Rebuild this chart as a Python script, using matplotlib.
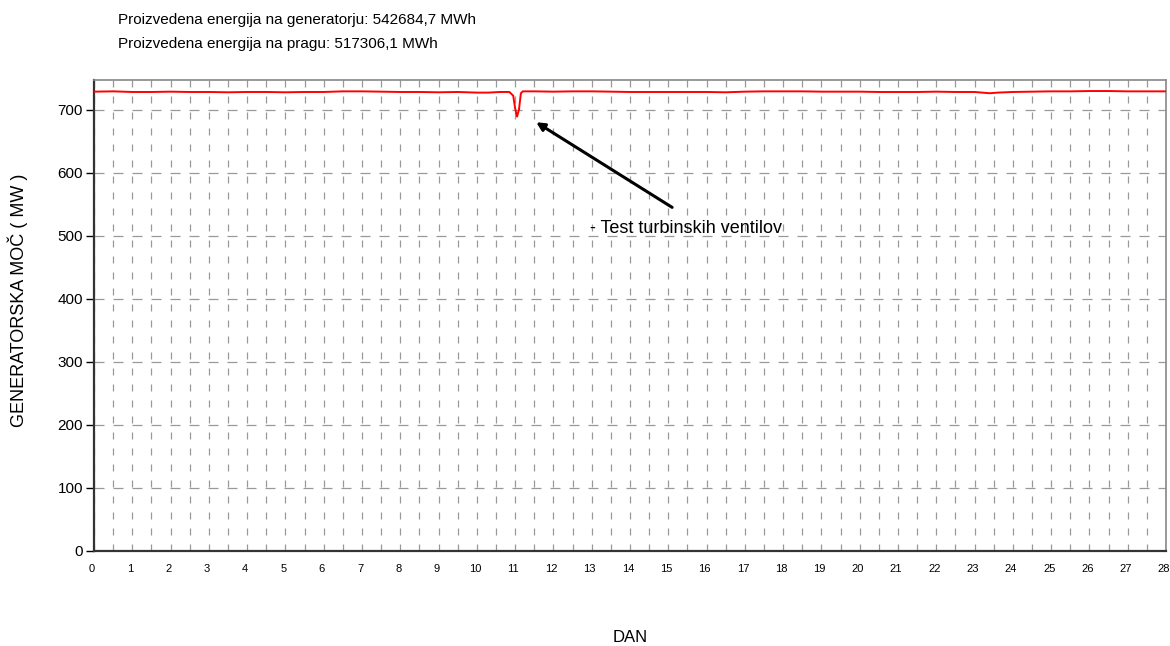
import matplotlib
matplotlib.use("Agg")
import matplotlib.pyplot as plt
import matplotlib.transforms as mtransforms
import numpy as np

plt.rcParams["font.family"] = ["Liberation Sans", "DejaVu Sans"]

# samples (day, MW)
days = [0.0, 0.5, 1.0, 1.5, 2.0, 2.5, 3.0, 3.5, 4.0, 4.5, 5.0, 5.5, 6.0,
        6.5, 7.0, 7.5, 8.0, 8.5, 9.0, 9.5, 10.0, 10.3, 10.6, 10.85, 10.95,
        11.0, 11.05, 11.1, 11.15, 11.2, 11.5, 12.0, 12.5, 13.0, 13.5, 14.0,
        14.5, 15.0, 15.5, 16.0, 16.5, 17.0, 17.5, 18.0, 18.5, 19.0, 19.5,
        20.0, 20.5, 21.0, 21.5, 22.0, 22.5, 23.0, 23.4, 23.6, 24.0, 24.5,
        25.0, 25.5, 26.0, 26.5, 27.0, 27.5, 28.0]
power = [728.5, 729, 728, 728, 728.5, 728, 728, 727.5, 728, 728, 727.5,
         728, 728, 729, 729, 728.5, 728, 728, 727.5, 728, 727, 727, 728,
         728, 722, 702, 689, 700, 726, 729, 729, 728.5, 729, 729, 728.5,
         728, 728, 728, 728, 728, 727.5, 728.5, 729, 729, 729, 728.5,
         728.5, 728.5, 728, 728, 728, 728.5, 728, 728, 726, 727, 728,
         728.5, 729, 729, 729.5, 729.5, 729, 729, 729]

header = ["Proizvedena energija na generatorju: 542684,7 MWh",
          "Proizvedena energija na pragu: 517306,1 MWh"]
note = "- Test turbinskih ventilov"

fig = plt.figure(figsize=(11.7, 6.46), dpi=100)
ax = fig.add_axes([94 / 1170, 1 - 551 / 646, 1072 / 1170, 471 / 646])

ax.plot(days, power, color="#ff0000", linewidth=1.4, zorder=3)

ax.set_xlim(0, 28)
ax.set_ylim(0, 747)
ax.set_xticks(np.arange(0, 29, 1))
ax.set_xticks(np.arange(0, 28.5, 0.5), minor=True)
ax.set_yticks(np.arange(0, 701, 100))
ax.tick_params(axis="x", which="both", length=0, labelsize=8, pad=9)
ax.tick_params(axis="y", length=6, width=1, direction="out", labelsize=11,
               pad=2)

# nudge x labels a little left, as in the original
shift = mtransforms.ScaledTranslation(-2 / 100, 0, fig.dpi_scale_trans)
for lbl in ax.get_xticklabels():
    lbl.set_transform(lbl.get_transform() + shift)

ax.grid(True, axis="x", which="both", color="#999999", linestyle=(0, (5.6, 7.2)),
        linewidth=0.9)
ax.grid(True, axis="y", which="major", color="#999999", linestyle=(0, (8, 7.2)),
        linewidth=0.9)

for side in ("top", "right"):
    ax.spines[side].set_color("#888888")
    ax.spines[side].set_linewidth(1.2)
for side in ("left", "bottom"):
    ax.spines[side].set_color("#333333")
    ax.spines[side].set_linewidth(1.6)

fig.text(18 / 1170, 1 - 300 / 646, "GENERATORSKA MOČ ( MW )", rotation=90,
         ha="center", va="center", fontsize=13)
fig.text(630 / 1170, 1 - 638 / 646, "DAN", ha="center", va="center", fontsize=12)

fig.text(118 / 1170, 1 - 20 / 646, header[0], ha="left", va="center", fontsize=11)
fig.text(118 / 1170, 1 - 44 / 646, header[1], ha="left", va="center", fontsize=11)

ax.annotate("", xy=(11.55, 680), xytext=(15.1, 545),
            arrowprops=dict(arrowstyle="-|>", color="black", lw=2.2,
                            mutation_scale=12, shrinkA=0, shrinkB=0))
ax.text(12.95, 511, note, ha="left", va="center", fontsize=13)

fig.savefig("out.png", dpi=100)
